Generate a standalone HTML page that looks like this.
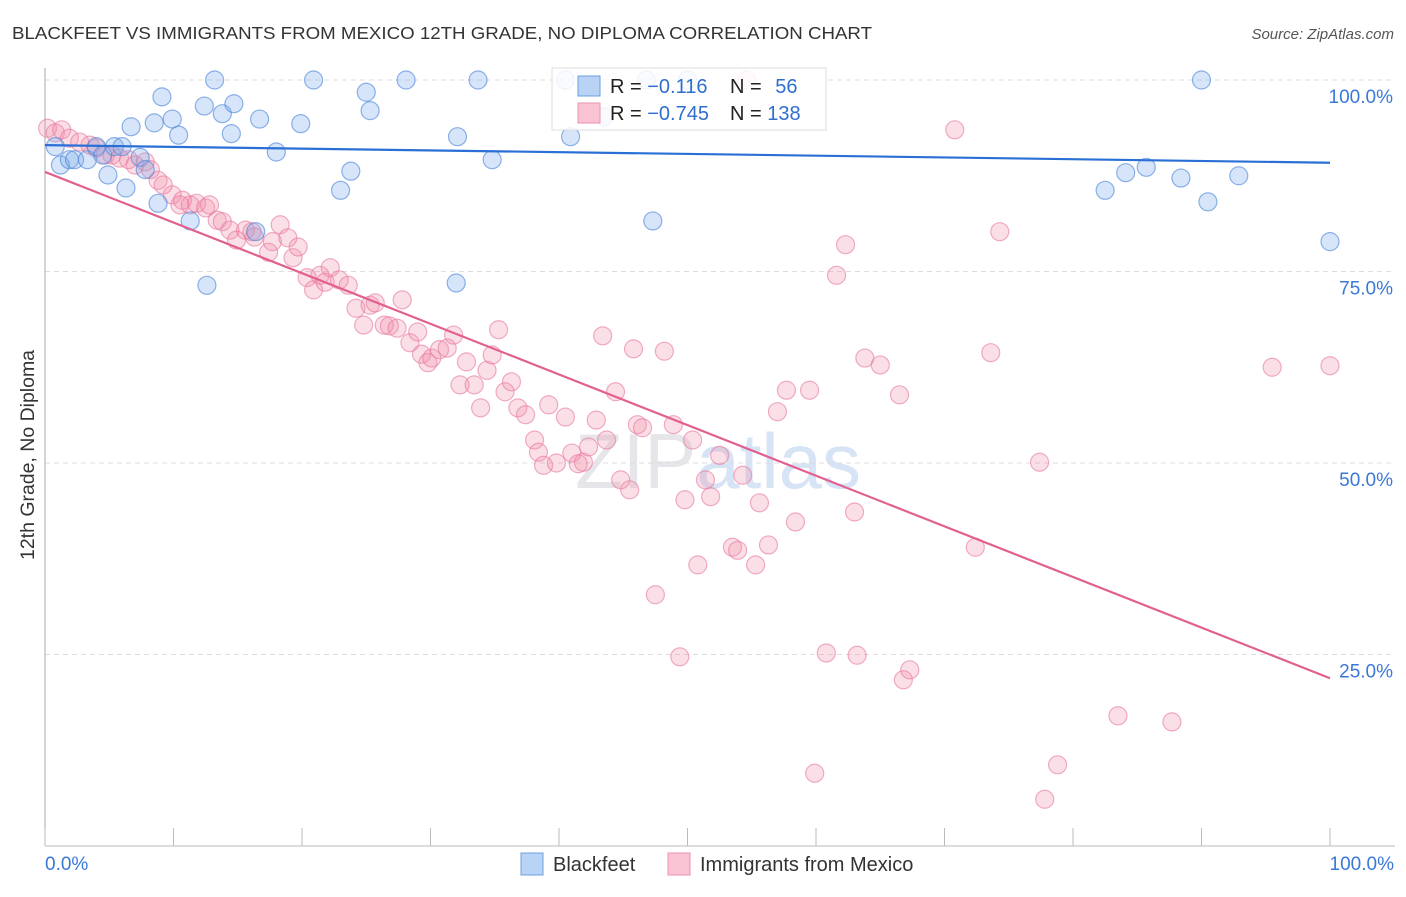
<!DOCTYPE html>
<html><head><meta charset="utf-8"><style>
body{margin:0;background:#fff;font-family:"Liberation Sans",sans-serif;}
svg text{font-family:"Liberation Sans",sans-serif;}
</style></head><body>
<svg id="chart" width="1406" height="892">
<text x="12" y="39" font-size="17.5" fill="#333" textLength="860" lengthAdjust="spacingAndGlyphs">BLACKFEET VS IMMIGRANTS FROM MEXICO 12TH GRADE, NO DIPLOMA CORRELATION CHART</text>
<text x="1394" y="39" font-size="15" fill="#555" font-style="italic" text-anchor="end">Source: ZipAtlas.com</text>
<text x="718" y="488" font-size="78" fill="#e6e6ea" text-anchor="middle" font-family="Liberation Serif">ZIP<tspan fill="#d6e4f5" font-family="Liberation Sans">atlas</tspan></text>
<g id="grid"></g>
<g id="axes"></g>
<g id="pts"></g>
<g id="lines"></g>
<text transform="translate(34,455) rotate(-90)" font-size="19" fill="#333" text-anchor="middle" textLength="210" lengthAdjust="spacingAndGlyphs">12th Grade, No Diploma</text>
<g>
<rect x="552" y="68" width="274" height="62" fill="#fff" fill-opacity="0.85" stroke="#ddd"/>
<rect x="578" y="76" width="22" height="20" fill="#b8d3f4" stroke="#6a9fe0"/>
<rect x="578" y="103" width="22" height="20" fill="#f9c3d3" stroke="#ec93b0"/>
<text x="610" y="93" font-size="20" fill="#222">R = <tspan fill="#2f6fd0">&#8722;0.116</tspan></text>
<text x="730" y="93" font-size="20" fill="#222">N = <tspan fill="#2f6fd0" dx="8">56</tspan></text>
<text x="610" y="120" font-size="20" fill="#222">R = <tspan fill="#2f6fd0">&#8722;0.745</tspan></text>
<text x="730" y="120" font-size="20" fill="#222">N = <tspan fill="#2f6fd0">138</tspan></text>
</g>
<g>
<rect x="521" y="853" width="22" height="22" fill="#b8d3f4" stroke="#6a9fe0"/>
<text x="553" y="871" font-size="20" fill="#333">Blackfeet</text>
<rect x="668" y="853" width="22" height="22" fill="#f9c3d3" stroke="#ec93b0"/>
<text x="700" y="871" font-size="20" fill="#333">Immigrants from Mexico</text>
</g>
</svg>
<script>
const yTicks=[100,75,50,25];
const yTickLabels=["100.0%","75.0%","50.0%","25.0%"];
const xTickLabels=["0.0%","100.0%"];
const blueX=[0.8,1.2,1.9,2.3,3.3,4.0,4.5,4.9,5.4,6.0,6.3,6.7,7.4,7.8,8.5,8.8,9.1,9.9,10.4,11.3,12.4,12.6,13.2,13.8,14.5,14.7,16.7,16.4,18.0,19.9,20.9,23.0,23.8,25.0,25.3,28.1,32.1,32.0,33.7,34.8,40.5,40.9,43.5,46.8,47.3,50.0,82.5,84.1,85.7,88.4,90.0,90.5,92.9,100];
const blueY=[91.3,88.9,89.6,89.6,89.6,91.3,90.2,87.6,91.3,91.3,85.9,93.9,89.9,88.3,94.4,83.9,97.8,94.9,92.8,81.6,96.6,73.2,100,95.6,93.0,96.9,94.9,80.2,90.6,94.3,100,85.6,88.1,98.4,96.0,100,92.6,73.5,100,89.6,100,92.6,95.2,100,81.6,100,85.6,87.9,88.6,87.2,100,84.1,87.5,78.9];
const pinkX=[0.2,0.8,1.3,1.9,2.7,3.5,4.0,4.7,5.2,5.8,6.5,7.0,7.8,8.2,8.8,9.2,9.9,10.5,10.7,11.3,11.8,12.5,12.8,13.4,13.8,14.4,14.9,15.6,16.1,16.3,17.4,17.7,18.3,18.9,19.3,19.7,20.4,20.9,21.4,21.8,22.2,22.9,23.6,24.2,24.8,25.3,25.7,26.4,26.8,27.4,27.8,28.4,29.0,29.3,29.8,30.1,30.7,31.3,31.8,32.3,32.8,33.4,33.9,34.4,34.8,35.3,35.8,36.3,36.8,37.4,38.1,38.4,38.8,39.2,39.8,40.5,41.0,41.5,41.9,42.3,42.9,43.4,43.7,44.4,44.8,45.5,45.8,46.1,46.5,47.5,48.2,48.9,49.4,49.8,50.4,50.8,51.4,51.8,52.5,53.5,53.9,54.3,54.6,55.3,55.6,56.3,57.0,57.7,58.4,59.5,59.9,60.8,61.6,62.3,63.0,63.2,63.8,65.0,66.5,66.8,67.3,70.8,72.4,73.6,74.3,77.4,77.8,78.8,83.5,87.7,95.5,100];
const pinkY=[93.7,93.1,93.5,92.4,91.9,91.5,91.1,90.2,90.2,89.8,89.6,88.9,89.3,88.3,86.9,86.3,85.0,83.7,84.3,83.7,83.9,83.3,83.7,81.7,81.5,80.4,79.1,80.4,80.2,79.5,77.5,78.9,81.1,79.4,76.8,78.2,74.2,72.6,74.5,73.6,75.5,73.9,73.2,70.2,68.0,70.6,70.9,68.0,67.9,67.6,71.3,65.7,67.1,64.2,63.1,63.7,64.8,65.0,66.7,60.2,63.2,60.2,57.2,62.1,64.1,67.4,59.3,60.6,57.2,56.3,53.0,51.4,49.7,57.6,50.0,56.0,51.3,49.9,50.1,52.1,55.6,66.6,53.0,59.3,47.8,46.5,64.9,55.0,54.6,32.8,64.6,55.0,24.7,45.2,53.0,36.7,47.8,45.6,51.0,39.0,38.6,48.4,100,36.7,44.8,39.3,56.7,59.5,42.3,59.5,9.5,25.2,74.5,78.5,43.6,24.9,63.7,62.8,58.9,21.7,23.0,93.5,39.0,64.4,80.2,50.1,6.1,10.6,17.0,16.2,62.5,62.7];
const blueTrend=[91.5,89.2];
const pinkTrend=[88.0,21.9];
const NS="http://www.w3.org/2000/svg";
const X=v=>45+v*12.85, Y=v=>846-v*7.66;
function mk(tag,attrs,parent){const e=document.createElementNS(NS,tag);for(const k in attrs)e.setAttribute(k,attrs[k]);parent.appendChild(e);return e;}
const grid=document.getElementById('grid'),axes=document.getElementById('axes'),pts=document.getElementById('pts'),lines=document.getElementById('lines');
yTicks.forEach((t,i)=>{
 const l=mk('line',{x1:45,x2:1395,y1:Y(t),y2:Y(t),stroke:'#ddd','stroke-dasharray':'5,4'},grid);
 
 
 const tx=mk('text',{x:1393,y:Y(t)+23,'font-size':19,fill:'#3a78d8','text-anchor':'end'},axes);
 tx.textContent=yTickLabels[i];
 
 
});
const ya=mk('line',{x1:45,x2:45,y1:68,y2:846,stroke:'#aaa'},axes);


const xa=mk('line',{x1:45,x2:1395,y1:846,y2:846,stroke:'#bbb'},axes);


for(let i=0;i<=10;i++){const t=mk('line',{x1:X(i*10),x2:X(i*10),y1:828,y2:846,stroke:'#bbb'},axes);
 
 }
[[0,'start',45],[1,'end',1394]].forEach(([i,a,x])=>{const t=mk('text',{x:x,y:870,'font-size':19,fill:'#3a78d8','text-anchor':a},axes);t.textContent=xTickLabels[i];
 
 });
pinkX.forEach((x,i)=>{const c=mk('circle',{cx:X(x),cy:Y(pinkY[i]),r:9,fill:'rgba(242,140,170,0.28)',stroke:'rgba(232,120,160,0.6)','stroke-width':1.2},pts);
 
 });
blueX.forEach((x,i)=>{const c=mk('circle',{cx:X(x),cy:Y(blueY[i]),r:9,fill:'rgba(120,170,235,0.3)',stroke:'rgba(70,130,215,0.6)','stroke-width':1.2},pts);
 
 });
const bl=mk('line',{x1:X(0),x2:X(100),y1:Y(blueTrend[0]),y2:Y(blueTrend[1]),stroke:'#2a6fd6','stroke-width':2.2},lines);


const pl=mk('line',{x1:X(0),x2:X(100),y1:Y(pinkTrend[0]),y2:Y(pinkTrend[1]),stroke:'#e2608f','stroke-width':2.2},lines);


</script>
</body></html>
